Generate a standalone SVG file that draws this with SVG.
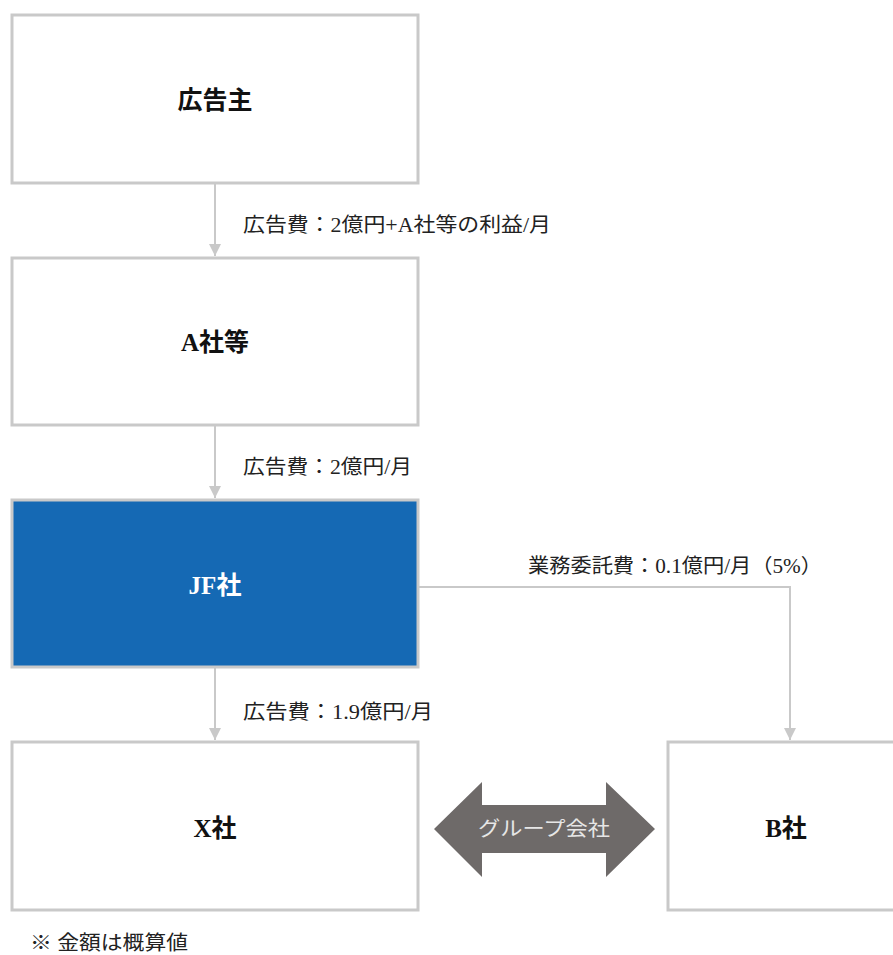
<svg xmlns="http://www.w3.org/2000/svg" width="893" height="955" viewBox="0 0 893 955">
<style>
.box{fill:#fff;stroke:#c9c9c9;stroke-width:3}
.jf{fill:#1569b4;stroke:#c9c9c9;stroke-width:3}
.name{font-family:"Liberation Serif","Noto Sans CJK JP",serif;font-weight:bold;font-size:25px;text-anchor:middle;fill:#111}
.lbl{font-family:"Liberation Serif","Noto Sans CJK JP",serif;font-size:20px;fill:#222}
.conn{fill:none;stroke:#c9c9c9;stroke-width:2}
</style>
<defs>
<marker id="ah" viewBox="0 0 10 10" refX="10" refY="5" markerWidth="6" markerHeight="6" markerUnits="strokeWidth" orient="auto">
<path d="M0,0 L10,5 L0,10 z" fill="#c9c9c9"/>
</marker>
</defs>
<rect width="893" height="955" fill="#fff"/>
<g id="connectors">
<line class="conn" x1="215" y1="184" x2="215" y2="256" marker-end="url(#ah)"/>
<line class="conn" x1="215" y1="426" x2="215" y2="498" marker-end="url(#ah)"/>
<line class="conn" x1="215" y1="668" x2="215" y2="740" marker-end="url(#ah)"/>
<polyline class="conn" points="419,587 790,587 790,740" marker-end="url(#ah)"/>
<text class="lbl" x="243" y="232" textLength="308" lengthAdjust="spacingAndGlyphs">広告費：2億円+A社等の利益/月</text>
<text class="lbl" x="243" y="474" textLength="169" lengthAdjust="spacingAndGlyphs">広告費：2億円/月</text>
<text class="lbl" x="243" y="719" textLength="190" lengthAdjust="spacingAndGlyphs">広告費：1.9億円/月</text>
<text class="lbl" x="528" y="573" textLength="294" lengthAdjust="spacingAndGlyphs">業務委託費：0.1億円/月（5%）</text>
</g>
<g id="advertiser">
<rect class="box" x="12" y="15" width="406" height="168"/>
<text class="name" x="215" y="109">広告主</text>
</g>
<g id="a-sha">
<rect class="box" x="12" y="258" width="406" height="167"/>
<text class="name" x="215" y="351">A社等</text>
</g>
<g id="jf-sha">
<rect class="jf" x="12" y="500" width="406" height="167"/>
<text class="name" x="215" y="594" style="fill:#fff">JF社</text>
</g>
<g id="x-sha">
<rect class="box" x="12" y="742" width="406" height="168"/>
<text class="name" x="215" y="837">X社</text>
</g>
<g id="b-sha">
<rect class="box" x="668" y="742" width="240" height="168"/>
<text class="name" x="786" y="837">B社</text>
</g>
<g id="group">
<polygon points="434,829 482,782 482,805 606,805 606,782 655,829 606,877 606,853 482,853 482,877" fill="#6e6a69"/>
<text x="544" y="836" font-family="'Noto Sans CJK JP',sans-serif" font-size="20" fill="#e6e6e6" text-anchor="middle" textLength="132" lengthAdjust="spacingAndGlyphs">グループ会社</text>
</g>
<text x="30" y="950" font-family="'Liberation Serif','Noto Sans CJK JP',serif" font-size="20" fill="#222" textLength="158" lengthAdjust="spacingAndGlyphs">※ 金額は概算値</text>
</svg>
